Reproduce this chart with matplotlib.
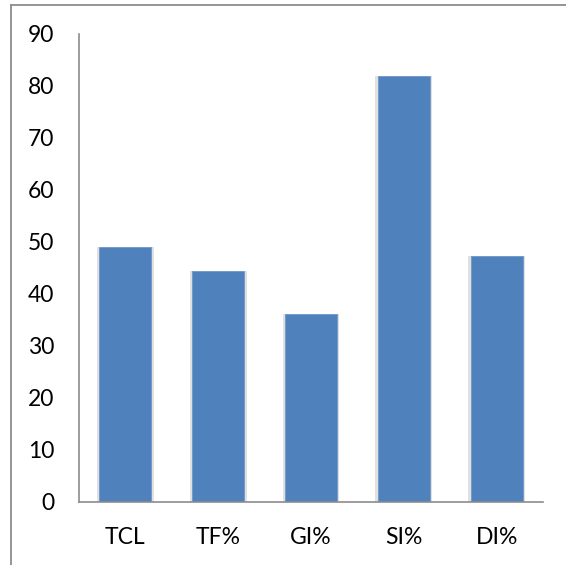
import matplotlib.pyplot as plt
from matplotlib.lines import Line2D

categories = ["TCL", "TF%", "GI%", "SI%", "DI%"]
values = [49.0, 44.5, 36.2, 81.9, 47.4]

plt.rcParams['font.family'] = ['Lato', 'DejaVu Sans']

fig = plt.figure(figsize=(5.66, 5.65), dpi=100)
ax = fig.add_axes([79 / 566, 63 / 565, 464 / 566, 468 / 565])

x = range(len(categories))
# soft shadow behind each bar
ax.bar(x, values, width=0.61, color="#d4d4d4", alpha=0.7, zorder=1)
ax.bar(x, values, width=0.56, color="#4F81BD", edgecolor="#6f97c8", linewidth=0.6, zorder=2)

ax.set_ylim(0, 90)
ax.set_xlim(-0.5, len(categories) - 0.5)
ax.set_yticks(range(0, 91, 10))
ax.set_xticks(list(x))
ax.set_xticklabels(categories)
ax.tick_params(axis="both", length=0, labelsize=16.5, colors="black")
ax.tick_params(axis="y", pad=18)
ax.tick_params(axis="x", pad=18)

for side in ["top", "right"]:
    ax.spines[side].set_visible(False)
for side in ["left", "bottom"]:
    ax.spines[side].set_color("#8c8c8c")
    ax.spines[side].set_linewidth(1.2)

# outer frame lines (top and left)
fig.add_artist(Line2D([11 / 566, 11 / 566], [0, 1 - 5 / 565], transform=fig.transFigure,
                      color="#8c8c8c", linewidth=1.3))
fig.add_artist(Line2D([11 / 566, 1], [1 - 5 / 565, 1 - 5 / 565], transform=fig.transFigure,
                      color="#8c8c8c", linewidth=1.3))

fig.savefig("out.png", dpi=100)
